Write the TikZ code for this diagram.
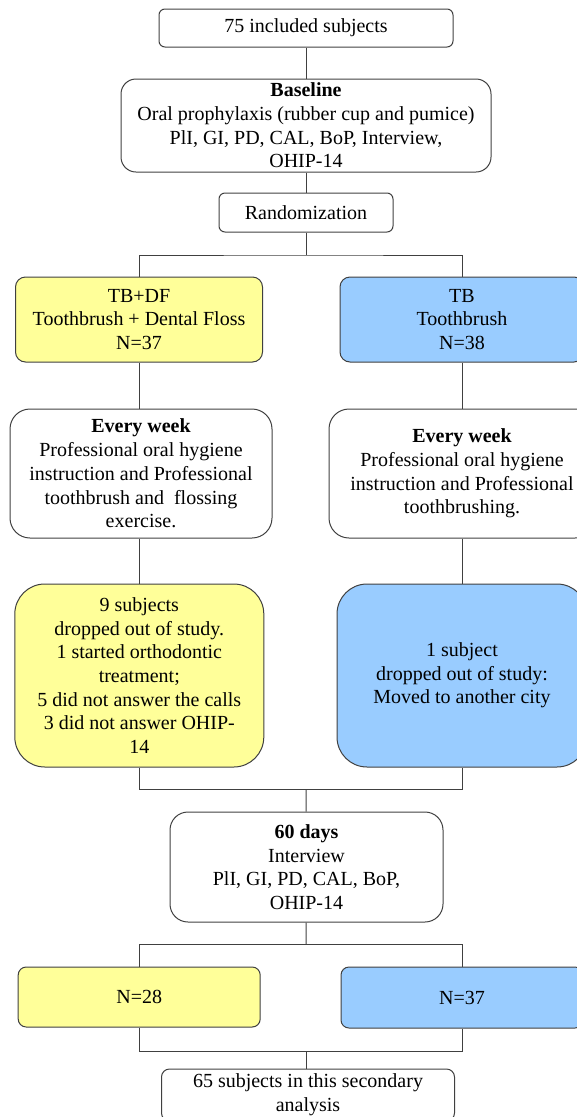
\documentclass[tikz,border=0pt]{standalone}
\usepackage{fontspec}
\setmainfont{Liberation Serif}
\definecolor{bordergray}{HTML}{404040}
\definecolor{yel}{HTML}{FFFF99}
\definecolor{blu}{HTML}{99CCFF}
\begin{document}
\begin{tikzpicture}[x=1pt,y=-1pt,
  box/.style={draw=bordergray, line width=1pt, align=center, inner sep=0pt,
    font=\fontsize{20}{23.7}\selectfont, text=black},
  yelbox/.style={box, fill=yel},
  blubox/.style={box, fill=blu},
  conn/.style={draw=bordergray, line width=1pt}]
\useasboundingbox (0,0) rectangle (576,1117);

\node[box, rounded corners=6pt, minimum width=294pt, minimum height=38pt] (inc) at (306,28) {75 included subjects};
\node[box, rounded corners=15pt, minimum width=370pt, minimum height=93pt] (base) at (306,125.5)
  {\textbf{Baseline}\\Oral prophylaxis (rubber cup and pumice)\\PlI, GI, PD, CAL, BoP, Interview,\\OHIP-14};
\node[box, rounded corners=6pt, minimum width=174pt, minimum height=39pt] (rand) at (306,212.5) {Randomization};

\node[yelbox, rounded corners=10pt, minimum width=247pt, minimum height=85pt] (tbdf) at (139,319.5)
  {TB+DF\\Toothbrush + Dental Floss\\N=37};
\node[blubox, rounded corners=10pt, minimum width=244pt, minimum height=85pt] (tb) at (462,319.5)
  {TB\\Toothbrush\\N=38};

\node[box, rounded corners=20pt, minimum width=262pt, minimum height=129pt] (ew1) at (141,473.5)
  {\textbf{Every week}\\Professional oral hygiene\\instruction and Professional\\toothbrush and\ \ flossing\\exercise.};
\node[box, rounded corners=20pt, minimum width=266pt, minimum height=129pt] (ew2) at (462,473.5)
  {\textbf{Every week}\\Professional oral hygiene\\instruction and Professional\\toothbrushing.};

\node[yelbox, rounded corners=30pt, minimum width=249pt, minimum height=183pt] (d1) at (139.3,675.5)
  {9 subjects\\dropped out of study.\\1 started orthodontic\\treatment;\\5 did not answer the calls\\3 did not answer OHIP-\\14};
\node[blubox, rounded corners=30pt, minimum width=250pt, minimum height=183pt] (d2) at (462,675.5)
  {1 subject\\dropped out of study:\\Moved to another city};

\node[box, rounded corners=18pt, minimum width=273pt, minimum height=110pt] (d60) at (306.5,867)
  {\textbf{60 days}\\Interview\\PlI, GI, PD, CAL, BoP,\\OHIP-14};

\node[yelbox, rounded corners=8pt, minimum width=242pt, minimum height=60pt] (n28) at (139.2,997) {N=28};
\node[blubox, rounded corners=8pt, minimum width=242pt, minimum height=61pt] (n37) at (462,997.5) {N=37};

\node[box, rounded corners=8pt, minimum width=293pt, minimum height=52pt] (fin) at (308,1095)
  {65 subjects in this secondary\\analysis};

\coordinate (s1) at (306,255);
\coordinate (m1) at (306,789);
\coordinate (s2) at (306,944);
\coordinate (m2) at (306,1051);

\draw[conn] (inc) -- (base);
\draw[conn] (base) -- (rand);
\draw[conn] (rand) -- (s1);
\draw[conn] (tbdf.north) |- (s1) -| (tb.north);
\draw[conn] (tbdf.south) -- (tbdf.south |- ew1.north);
\draw[conn] (tb) -- (ew2);
\draw[conn] (d1.north |- ew1.south) -- (d1.north);
\draw[conn] (ew2) -- (d2);
\draw[conn] (d1.south) |- (m1) -| (d2.south);
\draw[conn] (m1) -- (d60);
\draw[conn] (d60) -- (s2);
\draw[conn] (n28.north) |- (s2) -| (n37.north);
\draw[conn] (n28.south) |- (m2) -| (n37.south);
\draw[conn] (m2) -- (m2 |- fin.north);
\end{tikzpicture}
\end{document}
